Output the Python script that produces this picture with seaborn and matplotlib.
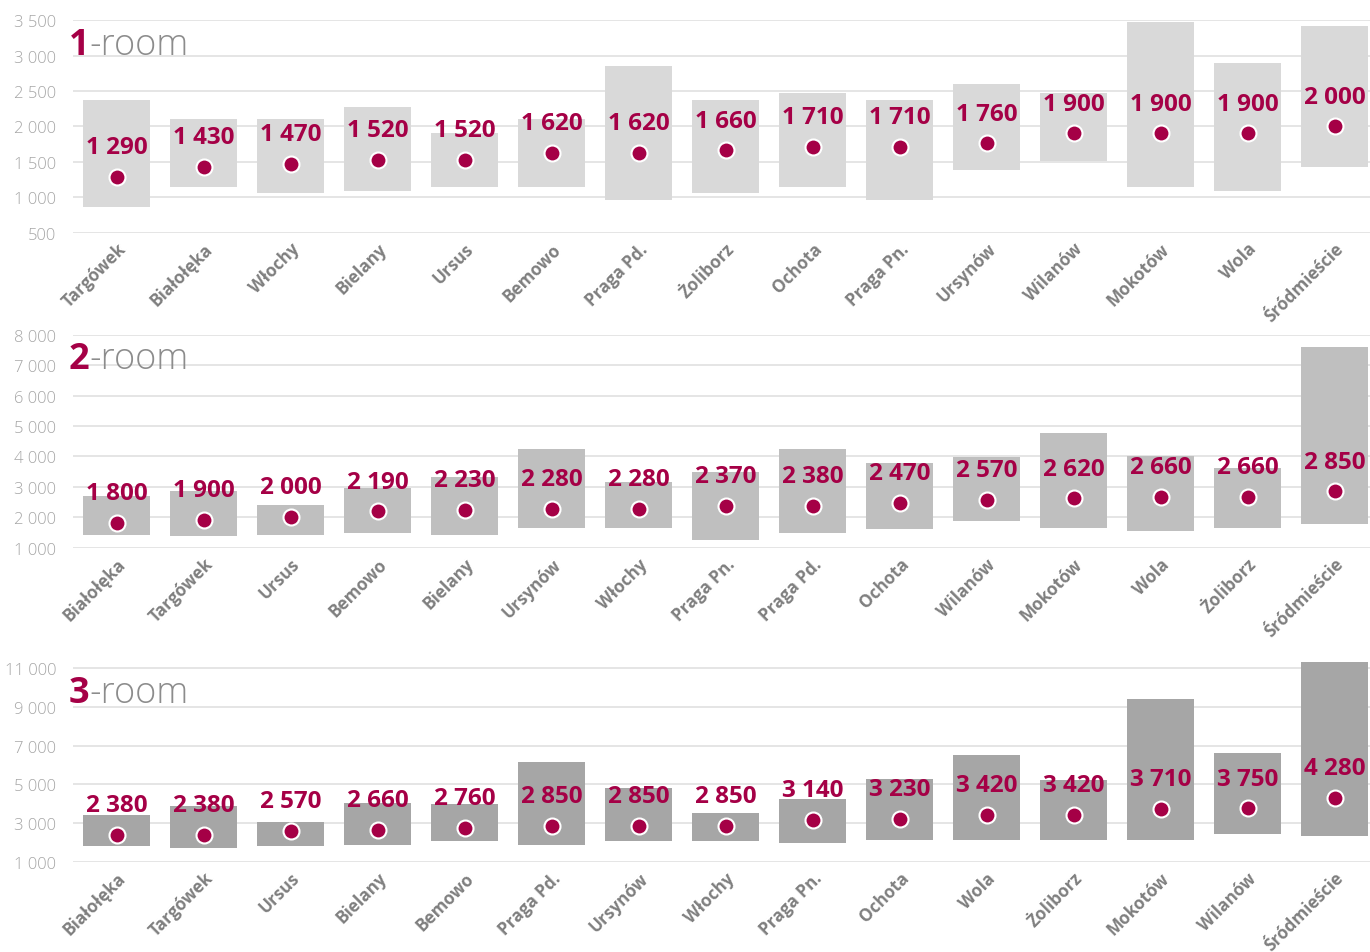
import numpy as np
import pandas as pd
import seaborn as sns
import matplotlib
matplotlib.use("Agg")
import matplotlib.pyplot as plt
from matplotlib.ticker import FuncFormatter, FixedLocator

# ---- data: rent per district (PLN) — median, lower and upper range -----
districts_1 = ["Targówek", "Białołęka", "Włochy", "Bielany", "Ursus", "Bemowo",
               "Praga Pd.", "Żoliborz", "Ochota", "Praga Pn.", "Ursynów",
               "Wilanów", "Mokotów", "Wola", "Śródmieście"]
median_1 = [1290, 1430, 1470, 1520, 1520, 1620, 1620, 1660, 1710, 1710, 1760,
            1900, 1900, 1900, 2000]
low_1 = [860, 1140, 1060, 1090, 1140, 1140, 960, 1060, 1140, 960, 1380,
         1510, 1140, 1090, 1430]
high_1 = [2380, 2100, 2100, 2280, 1900, 2100, 2850, 2380, 2470, 2380, 2600,
          2470, 3470, 2900, 3420]
yticks_1 = [500, 1000, 1500, 2000, 2500, 3000, 3500]

districts_2 = ["Białołęka", "Targówek", "Ursus", "Bemowo", "Bielany", "Ursynów",
               "Włochy", "Praga Pn.", "Praga Pd.", "Ochota", "Wilanów",
               "Mokotów", "Wola", "Żoliborz", "Śródmieście"]
median_2 = [1800, 1900, 2000, 2190, 2230, 2280, 2280, 2370, 2380, 2470, 2570,
            2620, 2660, 2660, 2850]
low_2 = [1430, 1380, 1430, 1490, 1430, 1660, 1660, 1260, 1490, 1600, 1890,
         1660, 1550, 1660, 1780]
high_2 = [2700, 2860, 2400, 2970, 3320, 4250, 3160, 3500, 4250, 3790, 3970,
          4770, 4020, 3620, 7600]
yticks_2 = [1000, 2000, 3000, 4000, 5000, 6000, 7000, 8000]

districts_3 = ["Białołęka", "Targówek", "Ursus", "Bielany", "Bemowo", "Praga Pd.",
               "Ursynów", "Włochy", "Praga Pn.", "Ochota", "Wola", "Żoliborz",
               "Mokotów", "Wilanów", "Śródmieście"]
median_3 = [2380, 2380, 2570, 2660, 2760, 2850, 2850, 2850, 3140, 3230, 3420,
            3420, 3710, 3750, 4280]
low_3 = [1800, 1690, 1800, 1880, 2060, 1880, 2060, 2060, 1970, 2140, 2140,
         2140, 2140, 2420, 2330]
high_3 = [3410, 3880, 3050, 4050, 3970, 6140, 4800, 3500, 4230, 5260, 6520,
          5240, 9430, 6600, 11340]
yticks_3 = [1000, 3000, 5000, 7000, 9000, 11000]

room_labels = ["1", "2", "3"]

# ---- style -----------------------------------------------------------------
sns.set_theme(style="white")
plt.rcParams["font.family"] = ["Open Sans", "DejaVu Sans"]

ACCENT = "#a50046"
GRID = "#e3e3e3"
TICK_GREY = "#a6a6a6"
XLAB_GREY = "#7f7f7f"
BAR_COLORS = ["#d9d9d9", "#bfbfbf", "#a6a6a6"]

panels = [
    dict(names=districts_1, med=median_1, lo=low_1, hi=high_1,
         ticks=yticks_1, ylim=(500, 3500)),
    dict(names=districts_2, med=median_2, lo=low_2, hi=high_2,
         ticks=yticks_2, ylim=(1000, 8000)),
    dict(names=districts_3, med=median_3, lo=low_3, hi=high_3,
         ticks=yticks_3, ylim=(1000, 11400)),
]

W, H = 1370, 953
fig = plt.figure(figsize=(W / 100, H / 100), dpi=100)

# axes boxes in pixels: (left, top, right, bottom)
boxes = [(73, 21.3, 1378, 233.5), (73, 335.7, 1378, 548.7), (73, 661.5, 1378, 862.7)]


def thousands(v, _pos=None):
    return f"{int(round(v)):,}".replace(",", " ")


for k, (p, box) in enumerate(zip(panels, boxes)):
    l, t, r, b = box
    ax = fig.add_axes([l / W, 1 - b / H, (r - l) / W, (b - t) / H])

    df = pd.DataFrame({
        "district": p["names"],
        "median": p["med"],
        "low": p["lo"],
        "span": np.array(p["hi"]) - np.array(p["lo"]),
    })

    # floating range bars (low..high) and the median dot
    sns.barplot(data=df, x="district", y="span", bottom=df["low"].to_numpy(),
                color=BAR_COLORS[k], saturation=1, width=0.77, ax=ax,
                linewidth=0, errorbar=None, order=p["names"])
    sns.stripplot(data=df, x="district", y="median", jitter=False, size=11.5,
                  color=ACCENT, edgecolor="white", linewidth=1.5, ax=ax,
                  order=p["names"], zorder=3)

    for i, v in enumerate(p["med"]):
        ax.annotate(thousands(v), (i, v), xytext=(0, 21.5),
                    textcoords="offset points", ha="center", va="center",
                    fontsize=17.5, fontweight="bold", color=ACCENT, zorder=4)

    ax.set_ylim(*p["ylim"])
    ax.set_xlim(-0.5, len(p["names"]) - 0.5)
    ax.yaxis.set_major_locator(FixedLocator(p["ticks"]))
    ax.yaxis.set_major_formatter(FuncFormatter(thousands))

    ax.grid(axis="y", color=GRID, linewidth=1.3)
    ax.grid(axis="x", visible=False)
    ax.set_axisbelow(True)
    for s in ax.spines.values():
        s.set_visible(False)
    ax.set_xlabel("")
    ax.set_ylabel("")
    ax.tick_params(axis="y", length=0, pad=12, labelsize=12, labelcolor=TICK_GREY)
    ax.tick_params(axis="x", length=0, pad=5)
    for lab in ax.get_yticklabels():
        lab.set_fontweight("light")
    ax.set_xticks(range(len(p["names"])))
    ax.set_xticklabels(p["names"], rotation=45, ha="right",
                       rotation_mode="anchor", fontsize=12.3,
                       fontweight="bold", color=XLAB_GREY)

    # panel heading: bold number + light "-room"
    trans = matplotlib.transforms.blended_transform_factory(ax.transAxes, ax.transData)
    t1 = ax.annotate(room_labels[k], (0, p["ticks"][-1]), xycoords=trans,
                     xytext=(-3, -24), textcoords="offset points",
                     ha="left", va="baseline", fontsize=26, fontweight="bold",
                     color=ACCENT, annotation_clip=False)
    ax.annotate("-room", (1, 0), xycoords=t1, ha="left", va="bottom",
                fontsize=26, fontweight="light", color="#8c8c8c",
                annotation_clip=False)

fig.savefig("out.png", dpi=100)
